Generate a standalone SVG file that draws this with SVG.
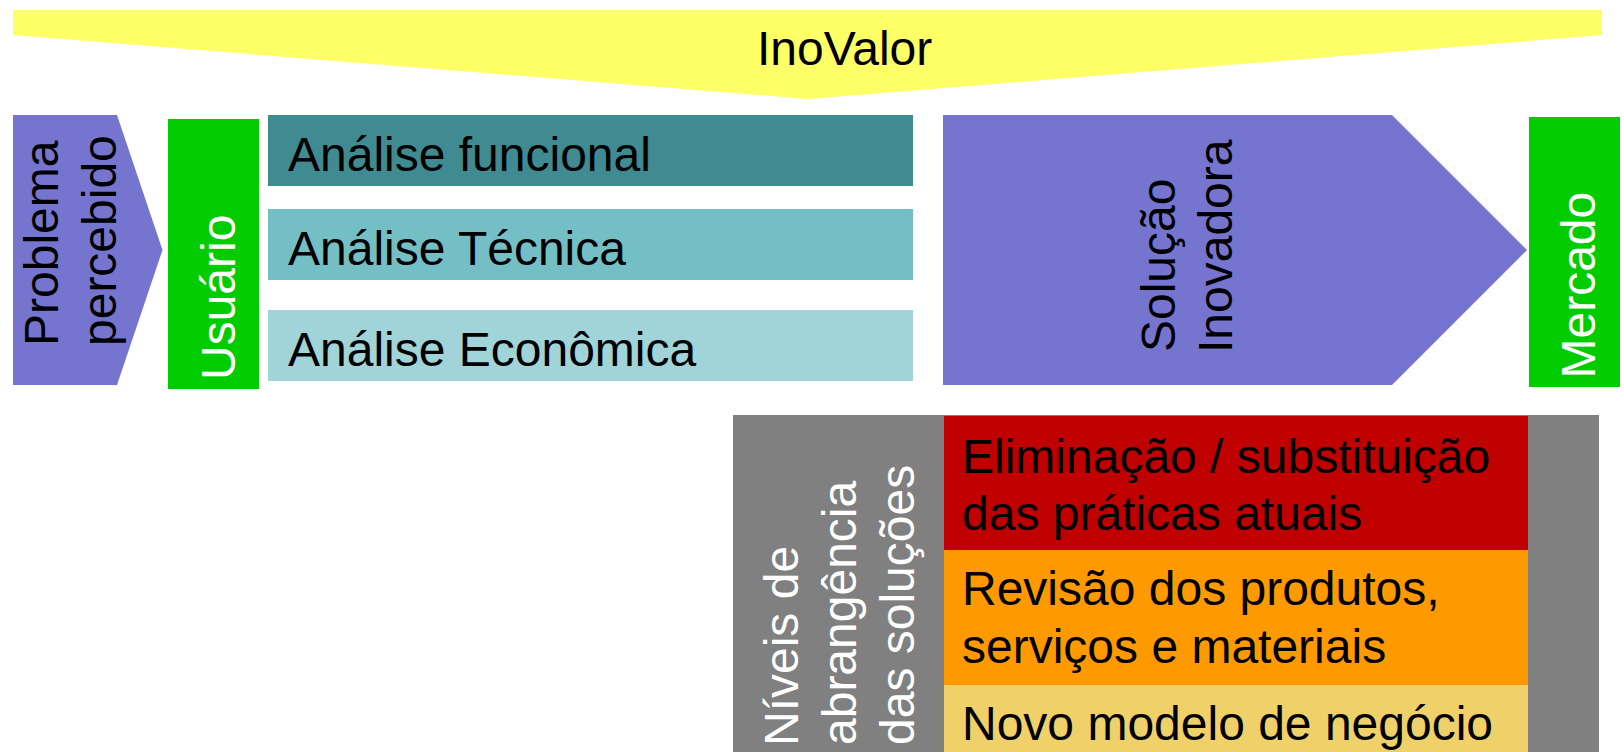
<svg xmlns="http://www.w3.org/2000/svg" width="1624" height="752" viewBox="0 0 1624 752">
<style>
text{font-family:"Liberation Sans",Arial,sans-serif;font-size:48px;fill:#000}
.w{fill:#fff}
</style>
<rect x="0" y="0" width="1624" height="752" fill="#fff"/>
<g id="inovalor">
<polygon points="13,10 1602,10 1602,35 808,99 13,35" fill="#ffff66"/>
<text x="757" y="65">InoValor</text>
</g>
<g id="problema">
<polygon points="13,115 117,115 162.5,250 117,385 13,385" fill="#7575cf"/>
<text transform="translate(58,346) rotate(-90)">Problema</text>
<text transform="translate(116,346) rotate(-90)">percebido</text>
</g>
<g id="usuario">
<rect x="168" y="119" width="91" height="270" fill="#00cc00"/>
<text class="w" transform="translate(235,380) rotate(-90)">Usuário</text>
</g>
<g id="funcional">
<rect x="268" y="115" width="645" height="71" fill="#3f8b91"/>
<text x="288" y="171">Análise funcional</text>
</g>
<g id="tecnica">
<rect x="268" y="209" width="645" height="71" fill="#73bfc5"/>
<text x="288" y="265">Análise Técnica</text>
</g>
<g id="economica">
<rect x="268" y="310" width="645" height="71" fill="#a0d4d8"/>
<text x="288" y="366">Análise Econômica</text>
</g>
<g id="solucao">
<polygon points="943,115 1392,115 1527,250 1392,385 943,385" fill="#7575cf"/>
<text transform="translate(1175,352) rotate(-90)">Solução</text>
<text transform="translate(1232,353) rotate(-90)">Inovadora</text>
</g>
<g id="mercado">
<rect x="1529" y="117" width="91" height="270" fill="#00cc00"/>
<text class="w" transform="translate(1595,378.5) rotate(-90)">Mercado</text>
</g>
<g id="niveis">
<rect x="733" y="415" width="866" height="340" fill="#808080"/>
<text class="w" transform="translate(798,746) rotate(-90)">Níveis de</text>
<text class="w" transform="translate(856,745) rotate(-90)">abrangência</text>
<text class="w" transform="translate(913.5,745) rotate(-90)">das soluções</text>
</g>
<g id="eliminacao">
<rect x="944" y="416" width="584" height="134" fill="#c00000"/>
<text x="962" y="472.5">Eliminação / substituição</text>
<text x="962" y="529.5">das práticas atuais</text>
</g>
<g id="revisao">
<rect x="944" y="550" width="584" height="135" fill="#ff9900"/>
<text x="962" y="605">Revisão dos produtos,</text>
<text x="962" y="663">serviços e materiais</text>
</g>
<g id="novo">
<rect x="944" y="685" width="584" height="70" fill="#f0d068"/>
<text x="962" y="740">Novo modelo de negócio</text>
</g>
<g id="connectors"/>
</svg>
